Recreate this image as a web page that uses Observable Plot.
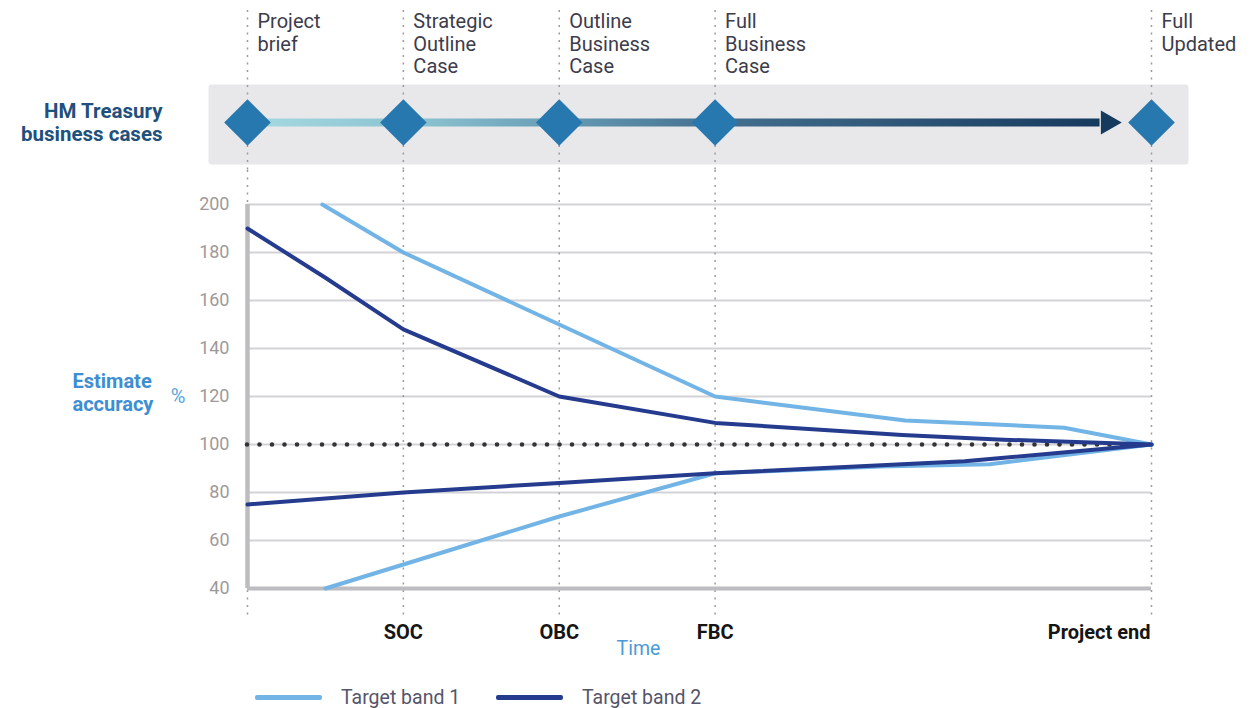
<!DOCTYPE html>
<html>
<head>
<meta charset="utf-8">
<script src="https://cdn.jsdelivr.net/npm/d3@7"></script>
<script src="https://cdn.jsdelivr.net/npm/@observablehq/plot@0.6"></script>
<style>
  html, body { margin: 0; padding: 0; background: #fff; }
  body { width: 1259px; height: 708px; position: relative; overflow: hidden; font-family: Roboto, "Noto Sans", sans-serif; }
  svg { display: block; }
  #top { position: absolute; left: 0; top: 0; }
  #main { position: absolute; left: 0; top: 170px; }
  #legend { position: absolute; left: 255px; top: 684px; height: 26px; display: flex; align-items: center; font-size: 19.5px; color: #55556a; }
  .sw { display: inline-block; width: 67px; height: 5px; border-radius: 2px; margin-right: 19px; flex: none; }
  .item { display: flex; align-items: center; width: 241px; white-space: nowrap; }
</style>
</head>
<body>
<div id="top"></div>
<div id="main"></div>
<div id="legend"></div>
<script>
// ---------- data ----------
const stageTimes = [0, 1, 2, 3, 5.8];
const stageNames = ["Project\nbrief", "Strategic\nOutline\nCase", "Outline\nBusiness\nCase", "Full\nBusiness\nCase", "Full\nUpdated"];
const stageAbbr = ["", "SOC", "OBC", "FBC", "Project end"];
const yTicks = [40, 60, 80, 100, 120, 140, 160, 180, 200];
const seriesNames = ["Target band 1", "Target band 2"];
const seriesColors = ["#72b4e5", "#253b8e"];

const band1UpperT = [0.48, 1, 2, 3, 4.22, 5.24, 5.8];
const band1UpperV = [200, 180, 150, 120, 110, 107, 100];
const band1LowerT = [0.5, 1, 2, 3, 4.06, 4.76, 5.8];
const band1LowerV = [40, 50, 70, 88, 90.8, 91.8, 100];
const band2UpperT = [0, 0.5, 1, 2, 3, 4.2, 4.85, 5.8];
const band2UpperV = [190, 169.5, 148, 120, 109, 104, 102, 100];
const band2LowerT = [0, 1, 2, 3, 4.6, 5.8];
const band2LowerV = [75, 80, 84, 88, 93, 100];
const targetLevel = 100;

// track (HM Treasury business cases)
const trackLevel = 0.5;
const trackStart = 0;
const trackEnd = 5.47;
const arrowHeadAt = 5.52;

// ---------- build tables ----------
function rows(ts, vs, series, seg) {
  return ts.map((t, i) => ({t, v: vs[i], series, seg}));
}
const lineData = [
  ...rows(band1UpperT, band1UpperV, seriesNames[0], "b1u"),
  ...rows(band1LowerT, band1LowerV, seriesNames[0], "b1l"),
  ...rows(band2UpperT, band2UpperV, seriesNames[1], "b2u"),
  ...rows(band2LowerT, band2LowerV, seriesNames[1], "b2l")
];
const stages = stageTimes.map((t, i) => ({t, name: stageNames[i], abbr: stageAbbr[i]}));
const xDomain = [0, 5.8];
const xRange = [247, 1151];

// gradient defs (render function)
function trackGradient(index, scales) {
  const ns = "http://www.w3.org/2000/svg";
  const defs = document.createElementNS(ns, "defs");
  const g = document.createElementNS(ns, "linearGradient");
  g.setAttribute("id", "trackGrad");
  g.setAttribute("gradientUnits", "userSpaceOnUse");
  g.setAttribute("x1", scales.x(trackStart));
  g.setAttribute("x2", scales.x(trackEnd));
  g.setAttribute("y1", 0);
  g.setAttribute("y2", 0);
  [[0, "#a6dae2"], [0.2, "#8cc3d1"], [0.38, "#6499b2"], [0.55, "#44708f"], [1, "#163a5e"]].forEach(([o, c]) => {
    const s = document.createElementNS(ns, "stop");
    s.setAttribute("offset", o);
    s.setAttribute("stop-color", c);
    g.appendChild(s);
  });
  defs.appendChild(g);
  return defs;
}

// ---------- top chart ----------
const topChart = Plot.plot({
  width: 1259,
  height: 170,
  marginLeft: 208,
  marginRight: 71,
  marginTop: 84,
  marginBottom: 6,
  x: {domain: xDomain, range: xRange, axis: null},
  y: {domain: [0, 1], axis: null},
  style: {fontFamily: "Roboto, sans-serif", background: "transparent"},
  marks: [
    Plot.frame({fill: "#e8e8eb", stroke: null, rx: 3}),
    Plot.ruleX(stages, {x: "t", stroke: "#9b9b9b", strokeWidth: 1.5, strokeDasharray: "2,5.5", insetTop: -74, insetBottom: -6}),
    trackGradient,
    Plot.ruleY([{y: trackLevel, x1: trackStart, x2: trackEnd}], {y: "y", x1: "x1", x2: "x2", stroke: "url(#trackGrad)", strokeWidth: 8, dy: -2}),
    Plot.dot([arrowHeadAt], {x: d => d, y: () => trackLevel, symbol: "triangle2", rotate: 90, r: 11.5, fill: "#163a5e", stroke: null, dy: -2}),
    Plot.dot(stages, {x: "t", y: () => trackLevel, symbol: "diamond2", r: 21, fill: "#2878b0", stroke: null, dy: -2}),
    Plot.text(stages, {x: "t", text: "name", frameAnchor: "top", lineAnchor: "top", textAnchor: "start", dx: 10, dy: -72.5, fontSize: 20, lineHeight: 1.13, fill: "#3c3c4c"}),
    Plot.text(["HM Treasury\nbusiness cases"], {frameAnchor: "left", textAnchor: "end", lineAnchor: "middle", dx: -46, dy: -2, fontSize: 20.5, fontWeight: "bold", lineHeight: 1.1, fill: "#21507c"})
  ]
});
document.getElementById("top").appendChild(topChart);

// ---------- main chart ----------
const mainChart = Plot.plot({
  width: 1259,
  height: 505,
  marginLeft: 247,
  marginRight: 108,
  marginTop: 34,
  marginBottom: 87,
  x: {domain: xDomain, range: xRange, axis: null},
  y: {domain: [40, 200], axis: null},
  style: {fontFamily: "Roboto, sans-serif", background: "transparent"},
  marks: [
    Plot.gridY(yTicks, {stroke: "#d3d3d7", strokeOpacity: 1, strokeWidth: 2}),
    Plot.ruleX(stages, {x: "t", stroke: "#9b9b9b", strokeWidth: 1.5, strokeDasharray: "2,5.5", insetTop: -34, insetBottom: -27}),
    Plot.ruleX([xDomain[0]], {stroke: "#bcbcc1", strokeWidth: 4.5}),
    Plot.ruleY([40], {stroke: "#bcbcc1", strokeWidth: 4}),
    Plot.ruleY([targetLevel], {stroke: "#333", strokeWidth: 4.6, strokeDasharray: "0,12.5", strokeLinecap: "round"}),
    Plot.axisY(yTicks, {tickSize: 0, tickPadding: 18, fontSize: 18, color: "#a09999", fill: "#a09999", label: null}),
    Plot.line(lineData.filter(d => d.series === seriesNames[0]), {x: "t", y: "v", z: "seg", stroke: seriesColors[0], strokeWidth: 4, strokeLinejoin: "round"}),
    Plot.line(lineData.filter(d => d.series === seriesNames[1]), {x: "t", y: "v", z: "seg", stroke: seriesColors[1], strokeWidth: 4, strokeLinejoin: "round"}),
    Plot.text(stages.filter(d => d.abbr && d.t < xDomain[1]), {x: "t", text: "abbr", frameAnchor: "bottom", lineAnchor: "middle", dy: 43.6, fontSize: 20, fontWeight: "bold", fill: "#151515"}),
    Plot.text(stages.filter(d => d.t === xDomain[1]), {x: "t", text: "abbr", frameAnchor: "bottom", lineAnchor: "middle", textAnchor: "end", dx: -1, dy: 43.6, fontSize: 20, fontWeight: "bold", fill: "#151515"}),
    Plot.text(["Time"], {frameAnchor: "bottom", lineAnchor: "middle", dx: -61, dy: 60, fontSize: 19.5, fill: "#4b9ad8"}),
    Plot.text(["%"], {frameAnchor: "left", lineAnchor: "middle", textAnchor: "middle", dx: -69.5, fontSize: 20, fill: "#5aa6dd"}),
    Plot.text(["Estimate\naccuracy"], {frameAnchor: "left", lineAnchor: "middle", textAnchor: "start", dx: -175, dy: -4.4, fontSize: 20, fontWeight: "bold", lineHeight: 1.13, fill: "#3d8ed3"})
  ]
});
document.getElementById("main").appendChild(mainChart);

// ---------- legend ----------
const legend = document.getElementById("legend");
seriesNames.forEach((name, i) => {
  const item = document.createElement("div");
  item.className = "item";
  const sw = document.createElement("span");
  sw.className = "sw";
  sw.style.background = seriesColors[i];
  const label = document.createElement("span");
  label.textContent = name;
  item.appendChild(sw);
  item.appendChild(label);
  legend.appendChild(item);
});
</script>
</body>
</html>
